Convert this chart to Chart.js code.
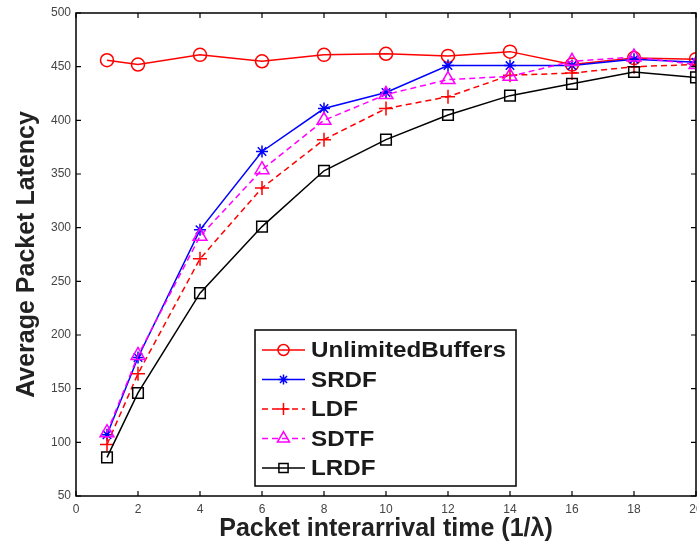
<!DOCTYPE html>
<html>
<head>
<meta charset="utf-8">
<script src="https://cdn.jsdelivr.net/npm/chart.js@4/dist/chart.umd.min.js"></script>
<style>
  html, body { margin: 0; padding: 0; background: #fff; }
</style>
</head>
<body>
<canvas id="chart" width="697" height="542"></canvas>
<script>
// data
const xValues = [1, 2, 4, 6, 8, 10, 12, 14, 16, 18, 20];
const unlimitedBuffers = [456, 452, 461, 455, 461, 462, 460, 464, 452, 458, 457];
const srdf = [107, 179, 298, 371, 411, 426, 451, 451, 451, 457, 454];
const ldf = [98, 164, 271, 337, 382, 411, 422, 442, 444, 450, 452];
const sdtf = [109, 181, 292, 354, 400, 424, 438, 441, 455, 459, 452];
const lrdf = [86, 146, 239, 301, 353, 382, 405, 423, 434, 445, 440];
const seriesNames = ['UnlimitedBuffers', 'SRDF', 'LDF', 'SDTF', 'LRDF'];
const xTicks = [0, 2, 4, 6, 8, 10, 12, 14, 16, 18, 20];
const yTicks = [50, 100, 150, 200, 250, 300, 350, 400, 450, 500];

const FONT = 'Liberation Sans, Arial, Helvetica, sans-serif';

function pts(ys) {
  return xValues.map((x, i) => ({ x: x, y: ys[i] }));
}

function makeSet(label, ys, color, style, radius, dash, order) {
  return {
    label: label,
    data: pts(ys),
    borderColor: color,
    backgroundColor: 'rgba(0,0,0,0)',
    pointBorderColor: color,
    pointBackgroundColor: 'rgba(0,0,0,0)',
    pointStyle: style,
    pointRadius: radius,
    pointBorderWidth: 1.5,
    borderWidth: 1.5,
    borderDash: dash,
    tension: 0,
    order: order
  };
}

// box, inward ticks and the legend drawn like the matlab figure
const boxPlugin = {
  id: 'box',
  afterDatasetsDraw(chart) {
    const ctx = chart.ctx;
    const a = chart.chartArea;
    const xs = chart.scales.x, ys = chart.scales.y;
    ctx.save();
    ctx.strokeStyle = '#000';
    ctx.lineWidth = 1.5;
    ctx.strokeRect(a.left, a.top, a.right - a.left, a.bottom - a.top);
    ctx.lineWidth = 1.2;
    ctx.beginPath();
    xTicks.forEach(t => {
      const px = xs.getPixelForValue(t);
      ctx.moveTo(px, a.bottom); ctx.lineTo(px, a.bottom - 5);
      ctx.moveTo(px, a.top); ctx.lineTo(px, a.top + 5);
    });
    yTicks.forEach(t => {
      const py = ys.getPixelForValue(t);
      ctx.moveTo(a.left, py); ctx.lineTo(a.left + 5, py);
      ctx.moveTo(a.right, py); ctx.lineTo(a.right - 5, py);
    });
    ctx.stroke();
    ctx.restore();
  },
  afterDraw(chart) {
    const ctx = chart.ctx;
    const bx = 255, by = 330, bw = 261, bh = 156;
    ctx.save();
    ctx.fillStyle = '#fff';
    ctx.fillRect(bx, by, bw, bh);
    ctx.strokeStyle = '#000';
    ctx.lineWidth = 1.5;
    ctx.strokeRect(bx, by, bw, bh);
    chart.data.datasets.forEach((ds, i) => {
      const ry = 350 + i * 29.5;
      ctx.strokeStyle = ds.borderColor;
      ctx.lineWidth = ds.borderWidth;
      ctx.setLineDash(ds.borderDash || []);
      ctx.beginPath();
      ctx.moveTo(262, ry); ctx.lineTo(305, ry);
      ctx.stroke();
      ctx.setLineDash([]);
      ctx.fillStyle = 'rgba(0,0,0,0)';
      Chart.helpers.drawPoint(ctx, {
        pointStyle: ds.pointStyle, radius: ds.pointRadius - 1,
        rotation: 0, borderWidth: ds.pointBorderWidth
      }, 283.5, ry);
      ctx.save();
      ctx.translate(311, ry + 1);
      ctx.scale(1.1, 1);
      ctx.fillStyle = '#1a1a1a';
      ctx.font = 'bold 22px ' + FONT;
      ctx.textBaseline = 'middle';
      ctx.fillText(seriesNames[i], 0, 0);
      ctx.restore();
    });
    ctx.restore();
  }
};

new Chart(document.getElementById('chart'), {
  type: 'line',
  data: {
    datasets: [
      makeSet(seriesNames[0], unlimitedBuffers, '#ff0000', 'circle', 6.5, [], 5),
      makeSet(seriesNames[1], srdf, '#0000ff', 'star', 6, [], 4),
      makeSet(seriesNames[2], ldf, '#ff0000', 'cross', 7, [6, 4], 3),
      makeSet(seriesNames[3], sdtf, '#ff00ff', 'triangle', 8, [6, 4], 2),
      makeSet(seriesNames[4], lrdf, '#000000', 'rect', 7.5, [], 1)
    ]
  },
  options: {
    responsive: false,
    animation: false,
    devicePixelRatio: 1,
    layout: { autoPadding: false, padding: { top: 13, right: 1, left: 0, bottom: 0 } },
    plugins: { legend: { display: false }, tooltip: { enabled: false } },
    scales: {
      x: {
        type: 'linear',
        min: 0, max: 20,
        afterBuildTicks: s => { s.ticks = xTicks.map(v => ({ value: v })); },
        afterFit: s => { s.height = 46; s.paddingLeft = 0; s.paddingRight = 0; },
        grid: { display: false, drawTicks: false },
        border: { display: false },
        ticks: { color: '#444', font: { family: FONT, size: 12 }, padding: 6, maxRotation: 0 },
        title: {
          display: true,
          text: 'Packet interarrival time (1/λ)',
          color: '#222',
          font: { family: FONT, size: 25, weight: 'bold', lineHeight: 1.0 },
          padding: { top: 0, bottom: 0 }
        }
      },
      y: {
        min: 50, max: 500,
        afterBuildTicks: s => { s.ticks = yTicks.map(v => ({ value: v })); },
        afterFit: s => { s.width = 76; s.paddingTop = 0; s.paddingBottom = 0; },
        grid: { display: false, drawTicks: false },
        border: { display: false },
        ticks: { color: '#444', font: { family: FONT, size: 12 }, padding: 5 },
        title: {
          display: true,
          text: 'Average Packet Latency',
          color: '#222',
          font: { family: FONT, size: 25, weight: 'bold', lineHeight: 1.0 },
          padding: { top: 15, bottom: 0 }
        }
      }
    }
  },
  plugins: [boxPlugin]
});
</script>
</body>
</html>
